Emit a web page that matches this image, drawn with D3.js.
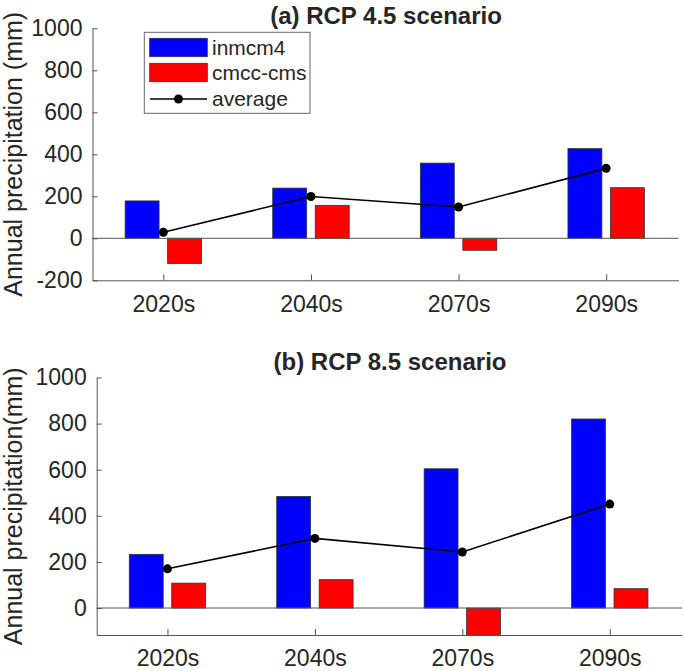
<!DOCTYPE html>
<html>
<head>
<meta charset="utf-8">
<script src="https://cdn.jsdelivr.net/npm/d3@7"></script>
<style>
  html, body { margin: 0; padding: 0; background: #fff; }
  svg { display: block; }
  text { font-family: "Liberation Sans", Arial, Helvetica, sans-serif; fill: #262626; }
</style>
</head>
<body>
<svg id="chart" width="685" height="671"></svg>
<script>
// ---- data ----
const categories = ["2020s", "2040s", "2070s", "2090s"];
const seriesNames = ["inmcm4", "cmcc-cms", "average"];

const rcp45Inmcm4 = [178, 239, 358, 427];
const rcp45Cmcc   = [-120, 157, -57, 241];
const rcp45Avg    = [29, 199, 149, 333];

const rcp85Inmcm4 = [233, 484, 604, 820];
const rcp85Cmcc   = [108, 123, -118, 84];
const rcp85Avg    = [170, 302, 243, 451];

const yTicks45 = [-200, 0, 200, 400, 600, 800, 1000];
const yTicks85 = [0, 200, 400, 600, 800, 1000];

const titles = ["(a) RCP 4.5 scenario", "(b) RCP 8.5 scenario"];
const yLabels = ["Annual precipitation (mm)", "Annual precipitation(mm)"];

// ---- layout ----
const svg = d3.select("#chart");
const colors = ["#0000ff", "#ff0000"];
const axisColor = "#555";

const panels = [
  { left: 92.5, right: 678.5, top: 28.3, bottom: 280.3, yDomain: [-200, 1000], ticks: yTicks45,
    a: rcp45Inmcm4, b: rcp45Cmcc, avg: rcp45Avg, title: titles[0], ylab: yLabels[0],
    titleX: 386, titleY: 24, legend: true },
  { left: 96.7, right: 682, top: 377.5, bottom: 635, yDomain: [-117, 1000], ticks: yTicks85,
    a: rcp85Inmcm4, b: rcp85Cmcc, avg: rcp85Avg, title: titles[1], ylab: yLabels[1],
    titleX: 390, titleY: 370, legend: false }
];

const barOffset = 0.144, barHalf = 0.115;

panels.forEach((p, pi) => {
  const x = d3.scaleLinear().domain([0.52, 4.49]).range([p.left, p.right]);
  const y = d3.scaleLinear().domain(p.yDomain).range([p.bottom, p.top]);
  const g = svg.append("g");

  const clipId = "clip" + pi;
  svg.append("clipPath").attr("id", clipId).append("rect")
    .attr("x", p.left).attr("y", p.top).attr("width", p.right - p.left).attr("height", p.bottom - p.top);

  const plot = g.append("g").attr("clip-path", `url(#${clipId})`);

  // bars
  const rows = categories.map((c, i) => ({ i: i + 1, a: p.a[i], b: p.b[i], avg: p.avg[i] }));
  [["a", -1], ["b", 1]].forEach(([key, sgn], si) => {
    plot.selectAll(".bar" + key).data(rows).enter().append("rect")
      .attr("x", d => x(d.i + sgn * barOffset - barHalf))
      .attr("width", d => x(d.i + sgn * barOffset + barHalf) - x(d.i + sgn * barOffset - barHalf))
      .attr("y", d => y(Math.max(0, d[key])))
      .attr("height", d => Math.abs(y(d[key]) - y(0)))
      .attr("fill", colors[si])
      .attr("stroke", "#333")
      .attr("stroke-width", 0.8);
  });

  // zero baseline
  g.append("line")
    .attr("x1", p.left).attr("x2", p.right)
    .attr("y1", y(0)).attr("y2", y(0))
    .attr("stroke", axisColor).attr("stroke-width", 1);

  // average line
  const line = d3.line().x(d => x(d.i)).y(d => y(d.avg));
  g.append("path").datum(rows).attr("d", line)
    .attr("fill", "none").attr("stroke", "#000").attr("stroke-width", 1.6);
  g.selectAll(".dot").data(rows).enter().append("circle")
    .attr("cx", d => x(d.i)).attr("cy", d => y(d.avg)).attr("r", 4.5).attr("fill", "#000");

  // y axis
  const yAxis = d3.axisLeft(y).tickValues(p.ticks).tickSizeInner(-5).tickSizeOuter(0).tickPadding(10)
    .tickFormat(d => String(d));
  const ya = g.append("g").attr("transform", `translate(${p.left},0)`).call(yAxis);
  ya.select(".domain").attr("stroke", axisColor);
  ya.selectAll(".tick line").attr("stroke", axisColor);
  ya.selectAll("text").style("font-size", "23px").attr("fill", "#262626");

  // x axis
  const xAxis = d3.axisBottom(x).tickValues([1, 2, 3, 4]).tickFormat(d => categories[d - 1])
    .tickSizeInner(-6).tickSizeOuter(0).tickPadding(15);
  const xa = g.append("g").attr("transform", `translate(0,${p.bottom})`).call(xAxis);
  xa.select(".domain").attr("stroke", axisColor);
  xa.selectAll(".tick line").attr("stroke", axisColor);
  xa.selectAll("text").style("font-size", "23px").attr("fill", "#262626");

  // title
  g.append("text").attr("x", p.titleX).attr("y", p.titleY).attr("text-anchor", "middle")
    .style("font-size", "24px").style("font-weight", "bold").attr("fill", "#000").text(p.title);

  // y label
  g.append("text")
    .attr("transform", `translate(22,${(p.top + p.bottom) / 2}) rotate(-90)`)
    .attr("text-anchor", "middle")
    .style("font-size", "25px").text(p.ylab);

  // legend
  if (p.legend) {
    const lg = g.append("g");
    lg.append("rect").attr("x", 144.3).attr("y", 32.3).attr("width", 165.7).attr("height", 81)
      .attr("fill", "#fff").attr("stroke", "#666").attr("stroke-width", 1);
    const cy = [47.5, 72.5, 99];
    [0, 1, 2].forEach(k => {
      if (k < 2) {
        lg.append("rect").attr("x", 149.7).attr("y", cy[k] - 9.2).attr("width", 57.6).attr("height", 18.4)
          .attr("fill", colors[k]).attr("stroke", "#333").attr("stroke-width", 0.8);
      } else {
        lg.append("line").attr("x1", 150).attr("x2", 207).attr("y1", cy[k]).attr("y2", cy[k])
          .attr("stroke", "#000").attr("stroke-width", 1.6);
        lg.append("circle").attr("cx", 178.5).attr("cy", cy[k]).attr("r", 4.5).attr("fill", "#000");
      }
      lg.append("text").attr("x", 212).attr("y", cy[k]).attr("dy", "0.35em")
        .style("font-size", "21px").text(seriesNames[k]);
    });
  }
});
</script>
</body>
</html>
